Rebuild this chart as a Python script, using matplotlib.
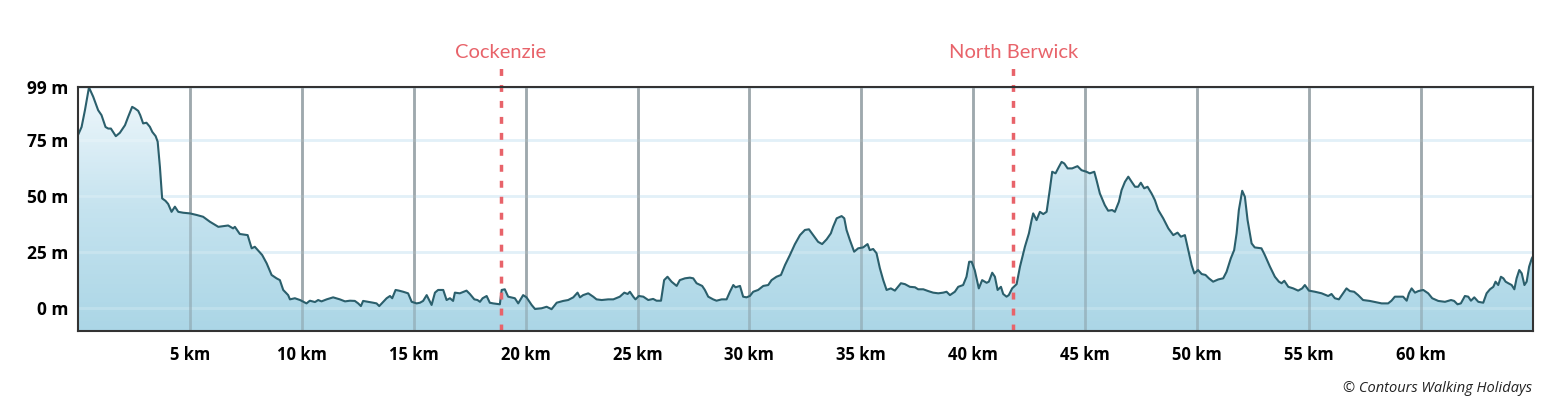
import matplotlib
matplotlib.use("Agg")
import matplotlib.pyplot as plt
import numpy as np
from matplotlib.colors import LinearSegmentedColormap

# ---- data ----
km = [0.00, 0.16, 0.31, 0.49, 0.68, 0.90, 1.05, 1.23, 1.35, 1.47, 1.69, 1.87, 2.10, 2.24, 2.42, 2.54,
      2.69, 2.78, 2.91, 3.06, 3.21, 3.32, 3.47, 3.56, 3.66, 3.76, 3.91, 4.03, 4.18, 4.33, 4.48, 4.70,
      5.00, 5.30, 5.59, 5.89, 6.27, 6.49, 6.71, 6.93, 7.01, 7.23, 7.58, 7.76, 7.90, 8.10, 8.23, 8.43,
      8.65, 8.87, 9.02, 9.17, 9.39, 9.47, 9.69, 9.92, 10.21, 10.36, 10.59, 10.73, 10.88, 11.11, 11.40,
      11.70, 11.93, 12.15, 12.37, 12.52, 12.64, 12.74, 12.97, 13.19, 13.34, 13.46, 13.64, 13.79, 13.94,
      14.04, 14.19, 14.34, 14.53, 14.75, 14.91, 15.13, 15.28, 15.42, 15.58, 15.80, 15.95, 16.09, 16.32,
      16.47, 16.62, 16.76, 16.84, 17.06, 17.36, 17.51, 17.71, 17.85, 17.96, 18.08, 18.26, 18.40, 18.55,
      18.85, 18.93, 19.07, 19.22, 19.52, 19.67, 19.89, 20.04, 20.27, 20.42, 20.71, 20.94, 21.16, 21.39,
      21.68, 21.90, 22.13, 22.32, 22.43, 22.57, 22.80, 23.02, 23.17, 23.40, 23.69, 23.92, 24.21, 24.41,
      24.56, 24.66, 24.81, 24.91, 25.06, 25.26, 25.48, 25.70, 25.85, 26.05, 26.19, 26.34, 26.52, 26.75,
      26.89, 27.12, 27.34, 27.49, 27.64, 27.89, 28.01, 28.16, 28.38, 28.53, 28.76, 28.98, 29.13, 29.28,
      29.38, 29.58, 29.72, 29.87, 30.02, 30.17, 30.39, 30.62, 30.84, 30.99, 31.21, 31.41, 31.59, 31.81,
      32.03, 32.26, 32.48, 32.66, 32.85, 33.07, 33.25, 33.45, 33.64, 33.74, 33.90, 34.12, 34.24, 34.34,
      34.49, 34.68, 34.86, 35.08, 35.28, 35.38, 35.53, 35.68, 35.83, 35.98, 36.13, 36.32, 36.50, 36.77,
      36.95, 37.17, 37.40, 37.54, 37.77, 37.99, 38.21, 38.44, 38.66, 38.81, 38.96, 39.18, 39.33, 39.55,
      39.70, 39.82, 39.93, 40.07, 40.25, 40.40, 40.60, 40.70, 40.85, 40.97, 41.09, 41.24, 41.34, 41.49,
      41.59, 41.74, 41.94, 42.09, 42.31, 42.49, 42.61, 42.68, 42.83, 42.98, 43.13, 43.28, 43.42, 43.53,
      43.68, 43.83, 43.95, 44.07, 44.22, 44.42, 44.66, 44.84, 45.06, 45.21, 45.41, 45.51, 45.66, 45.88,
      46.03, 46.21, 46.33, 46.51, 46.63, 46.78, 46.93, 47.08, 47.23, 47.37, 47.49, 47.64, 47.79, 47.97,
      48.12, 48.27, 48.49, 48.72, 48.94, 49.13, 49.28, 49.46, 49.61, 49.76, 49.88, 50.05, 50.21, 50.38,
      50.53, 50.72, 50.95, 51.17, 51.32, 51.51, 51.66, 51.77, 51.87, 52.02, 52.14, 52.26, 52.44, 52.58,
      52.88, 53.03, 53.26, 53.48, 53.66, 53.78, 53.90, 54.08, 54.30, 54.52, 54.70, 54.82, 55.00, 55.27,
      55.57, 55.86, 56.01, 56.16, 56.34, 56.53, 56.68, 56.83, 57.02, 57.20, 57.42, 57.72, 58.02, 58.25,
      58.54, 58.69, 58.84, 59.07, 59.21, 59.37, 59.47, 59.59, 59.74, 59.89, 60.11, 60.33, 60.51, 60.78,
      61.08, 61.35, 61.49, 61.64, 61.79, 61.97, 62.12, 62.24, 62.39, 62.57, 62.79, 62.94, 63.09, 63.24,
      63.34, 63.46, 63.58, 63.69, 63.79, 63.91, 64.06, 64.18, 64.28, 64.40, 64.51, 64.63, 64.73, 64.84,
      64.96, 65.00]
elev = [77.4, 81.0, 88.5, 98.7, 94.5, 88.5, 86.3, 81.0, 80.3, 80.3, 76.9, 78.4, 81.8, 85.5, 90.0, 89.3,
        88.2, 86.3, 82.6, 82.9, 81.1, 78.8, 76.9, 74.4, 63.2, 49.1, 48.0, 46.6, 43.1, 45.4, 43.1, 42.7,
        42.4, 41.7, 40.9, 38.7, 36.4, 36.7, 37.0, 35.7, 36.4, 33.2, 32.7, 26.8, 27.5, 25.3, 23.8, 20.1,
        14.9, 13.4, 12.6, 8.2, 5.9, 4.0, 4.5, 3.7, 2.2, 3.4, 2.8, 3.7, 3.1, 4.0, 4.9,
        4.0, 3.1, 3.4, 3.3, 2.2, 1.0, 3.3, 2.9, 2.5, 2.2, 1.0, 2.9, 4.5, 5.5,
        4.5, 8.2, 7.9, 7.4, 6.7, 2.9, 2.2, 2.5, 3.3, 5.9, 1.5, 7.0, 8.2, 8.2,
        3.7, 4.5, 3.3, 7.0, 6.7, 7.9, 6.4, 4.0, 3.7, 2.9, 4.5, 5.5, 2.5, 2.2,
        1.8, 8.2, 8.5, 5.2, 4.5, 2.2, 5.9, 4.9, 1.5, -0.3, 0.0, 0.7, -0.4, 2.5,
        3.3, 3.7, 4.9, 7.0, 4.9, 5.9, 6.7, 5.2, 4.0, 3.7, 4.0, 4.0, 5.2, 7.0,
        6.4, 7.4, 5.2, 4.0, 5.5, 5.2, 3.7, 4.2, 3.4, 3.4, 12.6, 14.1, 11.9, 10.0,
        12.6, 13.4, 13.7, 13.4, 11.2, 10.0, 8.2, 5.2, 4.0, 3.4, 4.0, 4.0, 7.4, 10.4,
        9.4, 10.0, 5.2, 4.9, 5.5, 7.4, 8.2, 10.0, 10.4, 12.6, 14.1, 14.9, 19.3, 23.8,
        28.6, 32.7, 35.0, 35.3, 32.7, 29.7, 28.7, 30.8, 33.5, 36.4, 40.2, 41.2, 40.2, 35.0,
        30.5, 25.3, 26.8, 27.2, 28.7, 26.0, 26.5, 24.6, 17.9, 12.6, 8.2, 8.9, 7.9, 11.2,
        10.8, 9.6, 9.4, 8.5, 8.5, 7.7, 7.0, 6.7, 7.0, 7.4, 5.9, 7.4, 9.6, 10.4,
        14.1, 20.8, 20.8, 17.0, 8.9, 12.6, 11.4, 11.9, 15.9, 14.1, 8.2, 9.6, 6.4, 5.2,
        5.9, 8.9, 10.8, 18.6, 27.5, 33.5, 39.4, 42.4, 39.4, 43.1, 42.1, 43.1, 52.8, 61.0,
        60.3, 63.2, 65.4, 64.7, 62.5, 62.5, 63.5, 61.7, 61.0, 60.3, 61.0, 57.3, 51.3, 46.1,
        43.6, 43.9, 43.1, 47.6, 52.8, 56.5, 58.8, 56.5, 54.3, 54.3, 56.1, 53.6, 54.3, 51.3,
        48.3, 43.9, 40.2, 35.7, 32.7, 33.8, 32.0, 32.7, 26.0, 19.3, 15.6, 17.1, 15.3, 14.9,
        13.4, 11.9, 12.9, 13.4, 16.3, 22.3, 26.0, 33.5, 43.9, 52.5, 49.8, 39.4, 29.0, 27.2,
        26.8, 23.8, 18.6, 14.1, 11.9, 11.2, 12.3, 9.6, 8.9, 7.9, 8.9, 10.4, 7.9, 7.4,
        6.7, 5.5, 6.4, 4.5, 4.0, 6.7, 8.9, 7.7, 7.4, 5.9, 3.7, 3.3, 2.7, 2.2,
        2.2, 3.4, 5.2, 5.2, 5.2, 3.4, 6.7, 8.9, 7.0, 7.7, 8.2, 6.7, 4.5, 3.3,
        2.9, 3.7, 3.3, 1.8, 2.2, 5.5, 5.2, 3.4, 4.9, 2.9, 2.5, 6.7, 8.5, 9.6,
        11.9, 10.4, 14.1, 13.4, 11.9, 11.2, 10.4, 8.5, 13.4, 17.1, 15.6, 10.4, 11.9, 18.6,
        22.3, 23.0]

x_ticks = [5, 10, 15, 20, 25, 30, 35, 40, 45, 50, 55, 60]
x_tick_labels = [f"{v} km" for v in x_ticks]
y_ticks = [0, 25, 50, 75, 99]
y_tick_labels = [f"{v} m" for v in y_ticks]
places = ["Cockenzie", "North Berwick"]
place_km = [18.9, 41.8]

X_MIN, X_MAX = 0, 65
Y_MIN, Y_MAX = -10, 99

fig = plt.figure(figsize=(15.64, 4.03), dpi=100)
ax = fig.add_axes([78 / 1564, 1 - 330.7 / 403, (1532.7 - 78) / 1564, (330.7 - 86.7) / 403])
ax.set_xlim(X_MIN, X_MAX)
ax.set_ylim(Y_MIN, Y_MAX)

# grid (behind)
for yv in y_ticks:
    ax.axhline(yv, color="#dcedf7", lw=2, zorder=0)
for xv in x_ticks:
    ax.axvline(xv, color="#b8b8b8", lw=2, zorder=0.5)

# gradient fill
cmap = LinearSegmentedColormap.from_list("g", ["#abd6e6", "#c5e3ef", "#f0f8fc"])
grad = np.linspace(0, 1, 256).reshape(-1, 1)
poly = ax.fill_between(km, elev, Y_MIN, color="none", lw=0)
im = ax.imshow(grad, cmap=cmap, aspect="auto", origin="lower",
               extent=[X_MIN, X_MAX, Y_MIN, Y_MAX], zorder=1)
path = poly.get_paths()[0]
im.set_clip_path(path, transform=ax.transData)

# grid visible through the fill
for xv in x_ticks:
    ax.axvline(xv, color="#8a9ea6", lw=2, zorder=1.2, alpha=0.55)
for yv in y_ticks:
    ax.axhline(yv, color="#ffffff", lw=2, zorder=1.1, alpha=0.2)

ax.plot(km, elev, color="#2b5f6c", lw=1.5, zorder=3)

# place markers
for name, xv in zip(places, place_km):
    ax.plot([xv, xv], [Y_MIN, 107.5], color="#e8636a", lw=2.5,
            linestyle=(0, (2, 2.6)), clip_on=False, zorder=4)
    ax.text(xv, 114.4, name, color="#e8636a", fontsize=14.5, ha="center", va="center",
            family="Lato", fontweight="normal", clip_on=False)

ax.set_xticks(x_ticks)
ax.set_xticklabels(x_tick_labels, fontsize=12, fontweight="bold", family="Open Sans")
ax.set_yticks(y_ticks)
ax.set_yticklabels(y_tick_labels, fontsize=12.5, fontweight="bold", family="Open Sans")
ax.tick_params(axis="both", length=0, colors="black")
ax.tick_params(axis="x", pad=11)
ax.tick_params(axis="y", pad=7)
for s in ax.spines.values():
    s.set_color("#333333")
    s.set_linewidth(1.5)
    s.set_zorder(5)

fig.text(1532 / 1564, 1 - 388 / 403, "© Contours Walking Holidays", ha="right", va="center",
         fontsize=10.5, style="italic", color="#222222", family="Open Sans")

fig.savefig("out.png", dpi=100, facecolor="white")
